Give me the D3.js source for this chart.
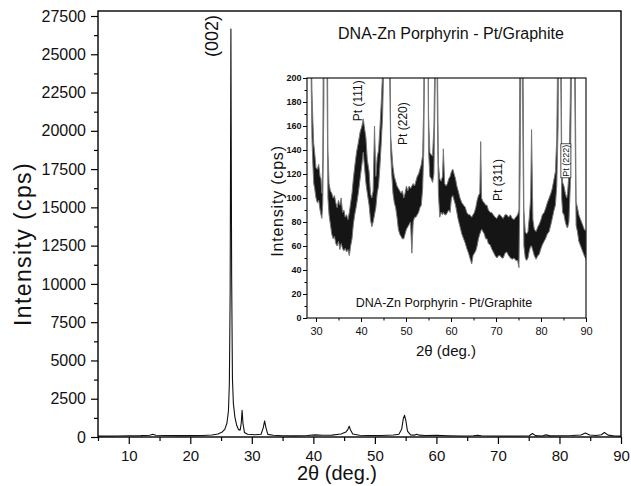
<!DOCTYPE html>
<html><head><meta charset="utf-8">
<script src="https://cdn.jsdelivr.net/npm/d3@7"></script>
<style>
body{margin:0;background:#fff;}
svg{display:block;font-family:"Liberation Sans",Arial,sans-serif;}
</style></head>
<body><svg id="c" width="631" height="486"></svg>
<script>
// ---------- main pattern ----------
const mainAngle = [5, 8, 10, 12, 13.4, 13.9, 14.4, 16, 18, 20, 22, 23.5, 24.5, 25.2, 25.6, 25.95, 26.2, 26.35, 26.48, 26.6, 26.72, 26.85, 27.0, 27.25, 27.55, 27.85, 28.1, 28.28, 28.42, 28.56, 28.8, 29.3, 30.5, 31.5, 31.85, 32.08, 32.3, 32.6, 33.5, 35, 37, 39, 40.3, 41.5, 43, 44.5, 45.3, 45.6, 45.82, 46.05, 46.4, 47.5, 49, 51, 53, 53.9, 54.35, 54.62, 54.82, 55.02, 55.3, 55.8, 56.4, 56.8, 57.2, 58.2, 60, 62, 64, 66, 66.7, 67.3, 70, 73, 75.1, 75.6, 76.1, 77.2, 77.8, 78.5, 80, 82, 83.5, 84.2, 84.9, 86, 86.8, 87.3, 87.9, 89, 90];
const mainCounts = [60, 70, 80, 90, 110, 180, 110, 95, 90, 90, 100, 130, 200, 330, 500, 900, 1700, 3500, 9500, 26650, 10500, 3800, 2200, 1300, 750, 480, 450, 900, 1750, 900, 300, 180, 150, 180, 600, 1050, 600, 170, 110, 80, 75, 100, 140, 110, 120, 200, 330, 480, 700, 460, 200, 110, 95, 100, 130, 180, 500, 1200, 1420, 1100, 380, 140, 120, 180, 120, 100, 110, 85, 70, 85, 110, 80, 70, 70, 80, 230, 90, 70, 140, 75, 80, 100, 130, 260, 130, 100, 150, 290, 120, 70, 60];

const mainXTicks = [10, 20, 30, 40, 50, 60, 70, 80, 90];
const mainXMinor = [5, 15, 25, 35, 45, 55, 65, 75, 85];
const mainYTicks = [0, 2500, 5000, 7500, 10000, 12500, 15000, 17500, 20000, 22500, 25000, 27500];
const mainYMinor = [1250, 3750, 6250, 8750, 11250, 13750, 16250, 18750, 21250, 23750, 26250];

// ---------- inset (zoomed 0-200 cps): noise band, low / high edge ----------
const insetAngle = [28.0, 28.3, 28.45, 28.7, 28.9, 29.1, 29.3, 29.5, 29.7, 30.0, 30.3, 30.6, 30.9, 31.1, 31.3, 31.5, 31.75, 32.1, 32.45, 32.65, 32.9, 33.2, 33.5, 33.8, 34.1, 34.4, 34.7, 35.0, 35.3, 35.6, 35.9, 36.2, 36.5, 36.8, 37.1, 37.4, 37.7, 38.0, 38.3, 38.6, 39.0, 39.4, 39.8, 40.2, 40.5, 40.8, 41.1, 41.4, 41.8, 42.1, 42.4, 42.7, 43.0, 43.3, 43.6, 43.9, 44.2, 44.5, 44.8, 45.1, 45.8, 46.35, 46.6, 46.8, 47.1, 47.4, 47.7, 48.0, 48.3, 48.6, 48.9, 49.2, 49.5, 49.8, 50.1, 50.4, 50.7, 51.0, 51.3, 51.6, 51.9, 52.2, 52.5, 52.8, 53.1, 53.4, 53.7, 53.95, 54.2, 54.5, 54.8, 55.0, 55.3, 55.6, 55.9, 56.2, 56.5, 56.8, 57.0, 57.2, 57.5, 57.8, 58.1, 58.3, 58.6, 58.9, 59.2, 59.5, 59.8, 60.1, 60.4, 60.7, 61.0, 61.3, 61.6, 62.0, 62.4, 62.8, 63.2, 63.5, 63.9, 64.2, 64.6, 64.9, 65.2, 65.5, 65.8, 66.1, 66.4, 66.6, 66.8, 67.1, 67.4, 67.7, 68.0, 68.3, 68.7, 69.0, 69.4, 69.8, 70.2, 70.6, 70.9, 71.3, 71.6, 72.0, 72.4, 72.8, 73.2, 73.6, 74.0, 74.4, 74.8, 75.1, 75.35, 75.7, 76.0, 76.2, 76.5, 76.8, 77.1, 77.4, 77.7, 77.9, 78.2, 78.5, 78.9, 79.3, 79.6, 80.0, 80.3, 80.7, 81.0, 81.4, 81.8, 82.2, 82.5, 82.9, 83.2, 83.5, 83.8, 84.1, 84.4, 84.6, 84.8, 85.1, 85.4, 85.7, 85.9, 86.2, 86.5, 86.9, 87.3, 87.6, 87.8, 88.1, 88.4, 88.7, 89.0, 89.3, 89.6, 90.0];
const insetLow = [420, 1300, 1600, 400, 205, 150, 128, 112, 108, 100, 96, 98, 90, 86, 83, 95, 180, 1000, 200, 100, 86, 78, 70, 66, 68, 62, 60, 64, 57, 62, 58, 56, 58, 55, 57, 52, 60, 66, 78, 86, 94, 104, 116, 128, 138, 125, 112, 104, 94, 82, 76, 80, 86, 92, 104, 110, 126, 146, 168, 220, 650, 210, 138, 122, 104, 96, 92, 84, 74, 70, 68, 66, 66, 70, 74, 76, 78, 80, 54, 80, 84, 84, 86, 88, 92, 94, 108, 140, 250, 1400, 300, 140, 118, 116, 113, 120, 200, 250, 160, 104, 84, 88, 86, 88, 86, 86, 88, 90, 88, 100, 102, 98, 94, 88, 82, 76, 70, 66, 62, 58, 54, 50, 45, 52, 54, 56, 60, 66, 70, 72, 74, 72, 70, 66, 66, 62, 61, 58, 55, 52, 50, 52, 52, 50, 50, 54, 55, 52, 50, 49, 50, 48, 48, 42, 120, 300, 140, 60, 50, 48, 50, 56, 60, 60, 56, 52, 49, 52, 53, 58, 61, 64, 66, 70, 72, 78, 83, 90, 94, 110, 160, 350, 200, 100, 88, 86, 80, 76, 75, 80, 110, 250, 280, 150, 77, 72, 64, 61, 58, 55, 52, 49];
const insetHigh = [520, 1500, 1750, 500, 240, 190, 165, 145, 138, 125, 124, 128, 118, 116, 104, 130, 320, 1100, 320, 140, 112, 106, 104, 100, 102, 96, 92, 98, 94, 100, 88, 90, 84, 86, 82, 88, 96, 104, 116, 126, 138, 146, 155, 160, 166, 158, 150, 132, 122, 104, 100, 106, 160, 118, 134, 140, 158, 180, 205, 300, 700, 260, 152, 141, 126, 118, 114, 110, 108, 106, 104, 106, 100, 104, 110, 106, 110, 108, 110, 112, 110, 114, 118, 120, 124, 128, 136, 180, 400, 1450, 400, 170, 138, 136, 135, 160, 240, 300, 210, 128, 116, 114, 118, 141, 112, 110, 112, 116, 118, 122, 124, 120, 116, 110, 106, 100, 96, 94, 92, 88, 86, 86, 84, 86, 88, 92, 98, 102, 104, 147, 100, 97, 96, 94, 94, 90, 88, 88, 86, 84, 83, 86, 86, 84, 83, 86, 86, 84, 86, 83, 82, 84, 86, 90, 250, 350, 220, 90, 72, 70, 72, 84, 100, 157, 82, 74, 72, 76, 78, 82, 86, 88, 91, 96, 100, 104, 108, 116, 122, 150, 250, 400, 260, 140, 113, 110, 104, 100, 104, 120, 180, 350, 350, 210, 97, 92, 86, 83, 80, 77, 74, 72];

const insetXTicks = [30, 40, 50, 60, 70, 80, 90];
const insetXMinor = [35, 45, 55, 65, 75, 85];
const insetYTicks = [0, 20, 40, 60, 80, 100, 120, 140, 160, 180, 200];
const insetYMinor = [10, 30, 50, 70, 90, 110, 130, 150, 170, 190];

const peakLabels = [
  {text: "Pt (111)", angle: 39.2, cps: 181, size: 12, boxed: false},
  {text: "Pt (220)", angle: 49.2, cps: 162, size: 12, boxed: false},
  {text: "Pt (311)", angle: 70.5, cps: 115, size: 12, boxed: false},
  {text: "Pt (222)", angle: 85.5, cps: 131, size: 9, boxed: true}
];
const sampleTitle = "DNA-Zn Porphyrin - Pt/Graphite";

// ---------- drawing ----------
const svg = d3.select("#c");
const font = '"Liberation Sans", Arial, sans-serif';

const x = d3.scaleLinear().domain([5, 90]).range([98, 621]);
const y = d3.scaleLinear().domain([0, 27500]).range([437, 16]);
const frameTop = 11;

const gMain = svg.append("g");
gMain.append("path")
  .datum(mainAngle.map((a, i) => [a, mainCounts[i]]))
  .attr("fill", "none").attr("stroke", "#111").attr("stroke-width", 1.1)
  .attr("stroke-linejoin", "round")
  .attr("d", d3.line().x(d => x(d[0])).y(d => y(d[1])));

gMain.append("rect").attr("x", 98).attr("y", frameTop)
  .attr("width", 621 - 98).attr("height", 437 - frameTop)
  .attr("fill", "none").attr("stroke", "#000").attr("stroke-width", 1.4);

function styleAxis(g, fs, weight) {
  g.select(".domain").remove();
  g.selectAll(".tick line").attr("stroke", "#000").attr("stroke-width", 1.2);
  g.selectAll(".tick text").attr("fill", "#111").style("font-size", fs + "px")
    .style("font-family", font).style("font-weight", weight || "normal");
}

const ax = gMain.append("g").attr("transform", "translate(0,437)")
  .call(d3.axisBottom(x).tickValues(mainXTicks).tickSize(7).tickPadding(6).tickFormat(d3.format("d")));
styleAxis(ax, 15);
const axm = gMain.append("g").attr("transform", "translate(0,437)")
  .call(d3.axisBottom(x).tickValues(mainXMinor).tickSize(4).tickFormat(""));
styleAxis(axm, 15);
const ay = gMain.append("g").attr("transform", "translate(98,0)")
  .call(d3.axisLeft(y).tickValues(mainYTicks).tickSize(7).tickPadding(5).tickFormat(d3.format("d")));
styleAxis(ay, 16);
const aym = gMain.append("g").attr("transform", "translate(98,0)")
  .call(d3.axisLeft(y).tickValues(mainYMinor).tickSize(4).tickFormat(""));
styleAxis(aym, 16);

svg.append("text").attr("x", 337).attr("y", 480).attr("text-anchor", "middle")
  .style("font-size", "20px").attr("fill", "#111").text("2θ (deg.)");
svg.append("text").attr("transform", "translate(31,244) rotate(-90)").attr("text-anchor", "middle")
  .style("font-size", "23px").style("letter-spacing", "1.4px").attr("fill", "#111").text("Intensity (cps)");
svg.append("text").attr("transform", `translate(${x(26.6) - 13},36) rotate(-90)`).attr("text-anchor", "middle")
  .style("font-size", "18px").attr("fill", "#111").text("(002)");
svg.append("text").attr("x", 451).attr("y", 39).attr("text-anchor", "middle")
  .style("font-size", "16px").attr("fill", "#111").text(sampleTitle);

// ---------- inset ----------
const ix = d3.scaleLinear().domain([28, 90]).range([307, 586]);
const iy = d3.scaleLinear().domain([0, 200]).range([318, 78]);
const gIn = svg.append("g");
svg.append("defs").append("clipPath").attr("id", "inclip").append("rect")
  .attr("x", 307).attr("y", 78).attr("width", 586 - 307).attr("height", 318 - 78);

const band = insetAngle.map((a, i) => ({a, lo: insetLow[i], hi: insetHigh[i]}));
gIn.append("path").datum(band).attr("clip-path", "url(#inclip)")
  .attr("fill", "#151515").attr("stroke", "#777").attr("stroke-width", 1)
  .attr("d", d3.area().x(d => ix(d.a)).y0(d => iy(d.lo)).y1(d => iy(d.hi)));

gIn.append("rect").attr("x", 307).attr("y", 78).attr("width", 586 - 307).attr("height", 318 - 78)
  .attr("fill", "none").attr("stroke", "#000").attr("stroke-width", 1.1);

const iax = gIn.append("g").attr("transform", "translate(0,318)")
  .call(d3.axisBottom(ix).tickValues(insetXTicks).tickSize(4).tickPadding(5).tickFormat(d3.format("d")));
styleAxis(iax, 11);
const iaxm = gIn.append("g").attr("transform", "translate(0,318)")
  .call(d3.axisBottom(ix).tickValues(insetXMinor).tickSize(2.5).tickFormat(""));
styleAxis(iaxm, 11);
const iay = gIn.append("g").attr("transform", "translate(307,0)")
  .call(d3.axisLeft(iy).tickValues(insetYTicks).tickSize(4).tickPadding(1.5).tickFormat(d3.format("d")));
styleAxis(iay, 9, "bold");
const iaym = gIn.append("g").attr("transform", "translate(307,0)")
  .call(d3.axisLeft(iy).tickValues(insetYMinor).tickSize(2.5).tickFormat(""));
styleAxis(iaym, 9);
gIn.selectAll(".tick line").attr("stroke-width", 1);

gIn.append("text").attr("x", 446).attr("y", 356).attr("text-anchor", "middle")
  .style("font-size", "15px").attr("fill", "#111").text("2θ (deg.)");
gIn.append("text").attr("transform", "translate(283,201) rotate(-90)").attr("text-anchor", "middle")
  .style("font-size", "16px").style("letter-spacing", "0.8px").attr("fill", "#111").text("Intensity (cps)");
gIn.append("text").attr("x", 444).attr("y", 307).attr("text-anchor", "middle")
  .style("font-size", "12.5px").attr("fill", "#111").text(sampleTitle);

peakLabels.forEach(p => {
  const t = gIn.append("text")
    .attr("transform", `translate(${ix(p.angle)},${iy(p.cps)}) rotate(-90)`)
    .attr("text-anchor", "middle").attr("dy", "0.35em")
    .style("font-size", p.size + "px").attr("fill", "#111").text(p.text);
  if (p.boxed) {
    const bb = t.node().getBBox();
    gIn.insert("rect", () => t.node())
      .attr("transform", `translate(${ix(p.angle)},${iy(p.cps)}) rotate(-90)`)
      .attr("x", bb.x - 1).attr("y", bb.y).attr("width", bb.width + 2).attr("height", bb.height)
      .attr("fill", "#fff").attr("stroke", "#111").attr("stroke-width", 0.7);
  }
});
</script></body></html>
